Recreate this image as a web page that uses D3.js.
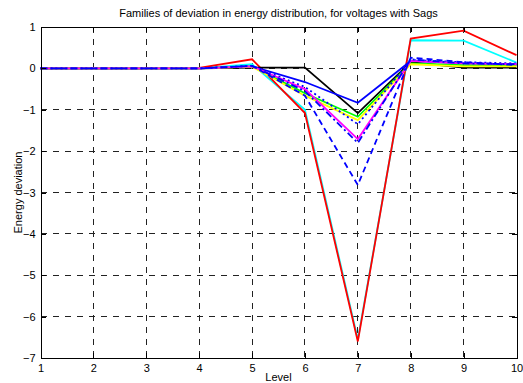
<!DOCTYPE html>
<html>
<head>
<meta charset="utf-8">
<script src="https://cdn.jsdelivr.net/npm/d3@7"></script>
<style>
  html, body { margin: 0; padding: 0; background: #fff; }
  svg { display: block; font-family: "Liberation Sans", Arial, sans-serif; }
</style>
</head>
<body>
<svg id="chart" width="523" height="383"></svg>
<script>
// Levels on the x axis
const levels = [1, 2, 3, 4, 5, 6, 7, 8, 9, 10];
const yTicks = [1, 0, -1, -2, -3, -4, -5, -6, -7];

// Energy deviation per level, one array per sag case
const cyanSeries     = [0, 0, 0, 0, 0.10, -1.00, -6.55, 0.68, 0.67, 0.14];
const redSeries      = [0, 0, 0, 0.01, 0.22, -1.08, -6.60, 0.72, 0.91, 0.32];
const blackSeries    = [0, 0, 0, 0, 0.02, 0.02, -1.08, 0.15, 0.02, 0.02];
const blueSeries     = [0, 0, 0, 0, 0.05, -0.33, -0.83, 0.18, 0.12, 0.10];
const greenSeries    = [0, 0, 0, 0, 0.05, -0.60, -1.17, 0.12, 0.08, 0.08];
const yellowSeries   = [0, 0, 0, 0, 0.04, -0.66, -1.25, 0.10, 0.05, 0.05];
const blueDotSeries  = [0, 0, 0, 0, 0.06, -0.45, -1.35, 0.20, 0.15, 0.12];
const magentaSeries  = [0, 0, 0, 0, 0.05, -0.50, -1.71, 0.18, 0.12, 0.10];
const blueDashDotSeries = [0, 0, 0, 0, 0.06, -0.55, -1.80, 0.22, 0.12, 0.10];
const blueDashSeries = [0, 0, 0, 0, 0.06, -0.66, -2.82, 0.26, 0.15, 0.08];

const series = [
  { values: cyanSeries,        color: "#00ffff", dash: null },
  { values: redSeries,         color: "#ff0000", dash: null },
  { values: blackSeries,       color: "#000000", dash: null },
  { values: blueSeries,        color: "#0000ff", dash: null },
  { values: greenSeries,       color: "#00ff00", dash: null },
  { values: yellowSeries,      color: "#ffff00", dash: null },
  { values: blueDotSeries,     color: "#0000ff", dash: "2,3" },
  { values: magentaSeries,     color: "#ff00ff", dash: null },
  { values: blueDashDotSeries, color: "#0000ff", dash: "7,3,2,3" },
  { values: blueDashSeries,    color: "#0000ff", dash: "6,4" }
];

const svg = d3.select("#chart");
const plotLeft = 40.5, plotRight = 516.5, plotTop = 27, plotBottom = 358;

const x = d3.scaleLinear().domain([1, 10]).range([plotLeft, plotRight]);
const y = d3.scaleLinear().domain([-7, 1]).range([plotBottom, plotTop]);

// dashed grid
const grid = svg.append("g");
grid.selectAll("line.vx").data(levels.slice(1, -1)).enter().append("line")
  .attr("x1", d => x(d)).attr("x2", d => x(d))
  .attr("y1", plotTop).attr("y2", plotBottom)
  .attr("stroke", "#222").attr("stroke-width", 1).attr("stroke-dasharray", "6,6")
  .attr("shape-rendering", "crispEdges");
grid.selectAll("line.hy").data(yTicks.slice(1, -1)).enter().append("line")
  .attr("y1", d => y(d)).attr("y2", d => y(d))
  .attr("x1", plotLeft).attr("x2", plotRight)
  .attr("stroke", "#222").attr("stroke-width", 1).attr("stroke-dasharray", "6,6")
  .attr("shape-rendering", "crispEdges");

// data lines
const line = d3.line().x((d, i) => x(levels[i])).y(d => y(d));
svg.append("g").selectAll("path").data(series).enter().append("path")
  .attr("d", d => line(d.values))
  .attr("fill", "none")
  .attr("stroke", d => d.color)
  .attr("stroke-width", 1.8)
  .attr("stroke-dasharray", d => d.dash);

// axes: inward ticks on all four sides
const tickLen = 5;
const axB = svg.append("g").attr("transform", `translate(0,${plotBottom})`)
  .call(d3.axisBottom(x).tickValues(levels).tickSizeInner(-tickLen).tickSizeOuter(0).tickPadding(6));
const axT = svg.append("g").attr("transform", `translate(0,${plotTop})`)
  .call(d3.axisTop(x).tickValues(levels).tickSizeInner(-tickLen).tickSizeOuter(0).tickFormat(""));
const axL = svg.append("g").attr("transform", `translate(${plotLeft},0)`)
  .call(d3.axisLeft(y).tickValues(yTicks).tickSizeInner(-tickLen).tickSizeOuter(0).tickPadding(5));
const axR = svg.append("g").attr("transform", `translate(${plotRight},0)`)
  .call(d3.axisRight(y).tickValues(yTicks).tickSizeInner(-tickLen).tickSizeOuter(0).tickFormat(""));

[axB, axT, axL, axR].forEach(a => {
  a.selectAll("path.domain").attr("stroke", "#000").attr("stroke-width", 1).attr("shape-rendering", "crispEdges");
  a.selectAll(".tick line").attr("stroke", "#000").attr("shape-rendering", "crispEdges");
  a.selectAll("text").attr("fill", "#000").style("font-size", "11px")
    .style("font-family", "'Liberation Sans', Arial, sans-serif");
});

// titles
svg.append("text").attr("x", (plotLeft + plotRight) / 2).attr("y", 17)
  .attr("text-anchor", "middle").style("font-size", "11px").text("Families of deviation in energy distribution, for voltages with Sags");
svg.append("text").attr("x", (plotLeft + plotRight) / 2).attr("y", 381)
  .attr("text-anchor", "middle").style("font-size", "11px").text("Level");
svg.append("text").attr("transform", `translate(22,${(plotTop + plotBottom) / 2}) rotate(-90)`)
  .attr("text-anchor", "middle").style("font-size", "11px").text("Energy deviation");
</script>
</body>
</html>
